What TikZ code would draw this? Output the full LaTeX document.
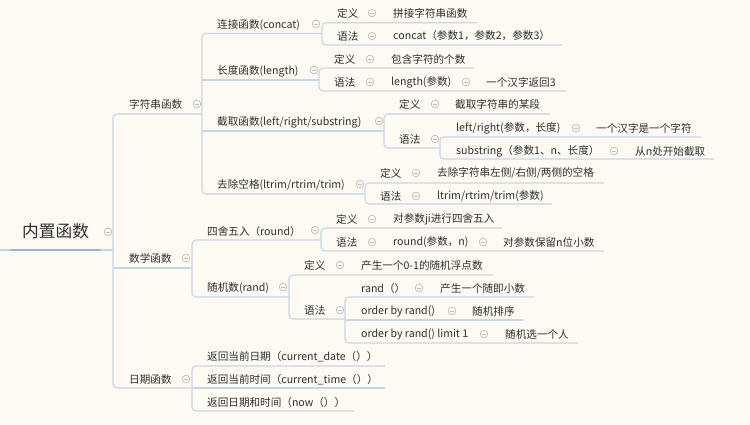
\documentclass[tikz,border=0pt]{standalone}
\usepackage{fontspec}
\setmainfont{Noto Sans CJK SC}
\usetikzlibrary{calc}
\definecolor{bgc}{HTML}{FDFAF3}
\definecolor{lnc}{HTML}{C8D5E4}
\definecolor{thk}{HTML}{9FB4CD}
\definecolor{txc}{HTML}{2E2E2E}
\definecolor{cic}{HTML}{BDBDBD}
\tikzset{
  tx/.style={anchor=west,inner sep=0pt,text=txc,font=\fontsize{10.6}{12}\selectfont},
  roottx/.style={anchor=west,inner sep=0pt,text=txc,font=\fontsize{16.7}{19}\selectfont},
  ln/.style={draw=lnc,line width=1.1pt},
  rc/.style={ln,rounded corners=4pt},
  fold/.style={circle,draw=cic,line width=0.7pt,minimum size=7.6pt,inner sep=0pt,fill=bgc,
    path picture={\draw[cic,line width=0.7pt] ([xshift=-2pt]path picture bounding box.center)--([xshift=2pt]path picture bounding box.center);}}
}
\begin{document}
\begin{tikzpicture}[x=1pt,y=-1pt]
\fill[bgc] (0,0) rectangle (750,424);
\useasboundingbox (0,0) rectangle (750,424);

% ---------- lines ----------
\draw[ln] (0,250)--(113,250);
\draw[thk,line width=2.6pt] (10,250)--(101,250);
\draw[rc] (202,114) -| (113,388) -- (192,388);
\draw[ln] (113,268)--(192,268);
% string functions
\draw[rc] (322,33.5) -| (202,194) -- (365,194);
\draw[ln] (202,80)--(319,80);
\draw[ln] (202,131)--(384,131);
\draw[rc] (477,22.7) -| (322,45) -- (562,45);
\draw[rc] (474,68) -| (319,91) -- (566,91);
\draw[rc] (550,114) -| (384,148) -- (440,148);
\draw[rc] (701,137) -| (440,159) -- (714,159);
\draw[rc] (604,183) -| (365,204) -- (552,204);
% math functions
\draw[rc] (321,240) -| (192,297) -- (289,297);
\draw[rc] (502,228) -| (321,251) -- (604,251);
\draw[rc] (493,275) -| (289,319) -- (345,319);
\draw[rc] (534,297) -| (345,343) -- (578,343);
\draw[ln] (345,320)--(523,320);
% date functions
\draw[rc] (385,366) -| (192,411) -- (354,411);
\draw[ln] (192,388)--(385,388);

% ---------- nodes ----------
\node[roottx] (root) at (22,231) {内置函数};
\node[tx] (s1) at (129,104) {字符串函数};
\node[tx] (s2) at (129,258) {数学函数};
\node[tx] (s3) at (129,379) {日期函数};

\node[tx] (a1) at (217,25) {连接函数(concat)};
\node[tx] (a1d) at (337,13) {定义};
\node[tx] (a1dv) at (393,13) {拼接字符串函数};
\node[tx] (a1s) at (337,36) {语法};
\node[tx] (a1sv) at (393,36) {concat（参数1，参数2，参数3）};

\node[tx] (a2) at (217,71) {长度函数(length)};
\node[tx] (a2d) at (334,59) {定义};
\node[tx] (a2dv) at (391,59) {包含字符的个数};
\node[tx] (a2s) at (334,82) {语法};
\node[tx] (a2sv) at (391,82) {length(参数)};
\node[tx] (a2sn) at (486,82) {一个汉字返回3};

\node[tx] (a3) at (217,122) {截取函数(left/right/substring)};
\node[tx] (a3d) at (399,104) {定义};
\node[tx] (a3dv) at (455,104) {截取字符串的某段};
\node[tx] (a3s) at (399,139) {语法};
\node[tx] (a3s1) at (456,128) {left/right(参数，长度)};
\node[tx] (a3s1n) at (596,128) {一个汉字是一个字符};
\node[tx] (a3s2) at (456,151) {substring（参数1、n、长度）};
\node[tx] (a3s2n) at (635,151) {从n处开始截取};

\node[tx] (a4) at (217,185) {去除空格(ltrim/rtrim/trim)};
\node[tx] (a4d) at (380,173) {定义};
\node[tx] (a4dv) at (437,173) {去除字符串左侧/右侧/两侧的空格};
\node[tx] (a4s) at (380,196) {语法};
\node[tx] (a4sv) at (437,196) {ltrim/rtrim/trim(参数)};

\node[tx] (b1) at (207,231) {四舍五入（round）};
\node[tx] (b1d) at (336,219) {定义};
\node[tx] (b1dv) at (393,219) {对参数ji进行四舍五入};
\node[tx] (b1s) at (336,242) {语法};
\node[tx] (b1sv) at (393,242) {round(参数，n)};
\node[tx] (b1sn) at (503,242) {对参数保留n位小数};

\node[tx] (b2) at (207,288) {随机数(rand)};
\node[tx] (b2d) at (304,265) {定义};
\node[tx] (b2dv) at (361,265) {产生一个0-1的随机浮点数};
\node[tx] (b2s) at (304,310) {语法};
\node[tx] (b2s1) at (361,288) {rand（）};
\node[tx] (b2s1n) at (440,288) {产生一个随即小数};
\node[tx] (b2s2) at (361,311) {order by rand()};
\node[tx] (b2s2n) at (472,311) {随机排序};
\node[tx] (b2s3) at (361,334) {order by rand() limit 1};
\node[tx] (b2s3n) at (505,334) {随机选一个人};

\node[tx] (c1) at (207,357) {返回当前日期（current\_date（））};
\node[tx] (c2) at (207,380) {返回当前时间（current\_time（））};
\node[tx] (c3) at (207,402) {返回日期和时间（now（））};

% ---------- fold markers ----------
\node[fold] at (108,232) {};
\node[fold] at (197,104) {};
\node[fold] at (186,258) {};
\node[fold] at (186,379) {};
\node[fold] at (316,24) {};
\node[fold] at (372,13) {};
\node[fold] at (372,36) {};
\node[fold] at (314,70) {};
\node[fold] at (370,59) {};
\node[fold] at (370,82) {};
\node[fold] at (466,82) {};
\node[fold] at (379,121) {};
\node[fold] at (435,104) {};
\node[fold] at (435,139) {};
\node[fold] at (576,128) {};
\node[fold] at (614,151) {};
\node[fold] at (360,184) {};
\node[fold] at (416,173) {};
\node[fold] at (416,196) {};
\node[fold] at (315,230) {};
\node[fold] at (372,219) {};
\node[fold] at (372,242) {};
\node[fold] at (483,242) {};
\node[fold] at (283,287) {};
\node[fold] at (340,265) {};
\node[fold] at (340,310) {};
\node[fold] at (419,288) {};
\node[fold] at (452,311) {};
\node[fold] at (484,334) {};
\end{tikzpicture}
\end{document}
